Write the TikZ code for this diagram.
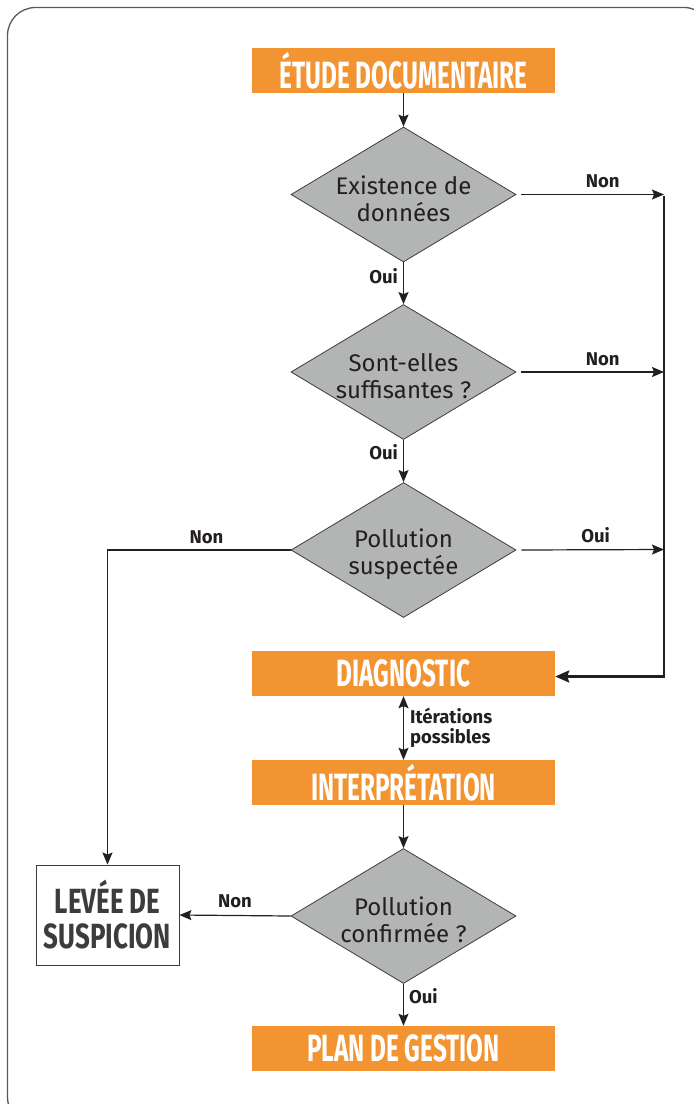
\documentclass[tikz,border=0pt]{standalone}
\usepackage{fontspec}
\setmainfont{Fira Sans}
\newfontfamily\headfont[FakeStretch=0.64]{Fira Sans}
\newfontfamily\leveefont[FakeStretch=0.74]{Fira Sans}
\usetikzlibrary{shapes.geometric,arrows.meta}
\definecolor{orng}{HTML}{F39433}
\definecolor{grayf}{HTML}{B3B5B5}
\definecolor{ink}{HTML}{231F20}
\definecolor{dgray}{HTML}{3C3C3C}
\tikzset{
  head/.style={fill=orng, minimum width=303pt, minimum height=45pt, inner sep=0pt,
    text=white, font=\headfont\bfseries\fontsize{38}{38}\selectfont},
  dia/.style={diamond, fill=grayf, draw=dgray, line width=0.8pt, minimum width=225pt,
    minimum height=135pt, inner sep=0pt},
  diatext/.style={align=center, text=ink, inner sep=0pt, yshift=-4pt,
    font=\fontsize{24}{27}\selectfont},
  lab/.style={font=\bfseries\fontsize{18.5}{20}\selectfont, text=ink, inner sep=0pt},
  arr/.style={draw=ink, line width=1.2pt, -{Stealth[length=12pt,width=10pt,inset=2pt]}},
  thk/.style={draw=ink, line width=2.6pt},
}
\begin{document}
\begin{tikzpicture}[x=1pt,y=-1pt]
\useasboundingbox (0,0) rectangle (694,1104);
\begin{scope}
\clip (0,0) rectangle (694,1104);
\draw[rounded corners=28pt, line width=1.3pt, draw=dgray!85] (7.5,7.5) rectangle (712,1125);
\end{scope}

\node[head] (etude) at (403.5,70.5) {ÉTUDE DOCUMENTAIRE};
\node[dia] (d1) at (403.5,194.5) {};
\node[diatext] (t1) at (d1.center) {Existence de\\données};
\node[dia] (d2) at (403.5,372) {};
\node[diatext] (t2) at (d2.center) {Sont-elles\\suffisantes ?};
\node[dia] (d3) at (403.5,550) {};
\node[diatext] (t3) at (d3.center) {Pollution\\suspectée};
\node[head] (diag) at (403.5,673.5) {DIAGNOSTIC};
\node[head] (interp) at (403.5,782.5) {INTERPRÉTATION};
\node[dia] (d4) at (403.5,916) {};
\node[diatext] (t4) at (d4.center) {Pollution\\confirmée ?};
\node[head] (plan) at (403.5,1048.5) {PLAN DE GESTION};
\node[draw=dgray, line width=0.9pt, fill=white, minimum width=143pt, minimum height=100pt,
  inner sep=0pt, align=center, text=dgray,
  font=\leveefont\bfseries\fontsize{35}{35}\selectfont] (levee) at (107.5,915) {LEVÉE DE\\SUSPICION};

\coordinate (r1) at (664,194.5);
\coordinate (r2) at (664,372);
\coordinate (r3) at (664,549.5);

% vertical flow
\draw[arr] (etude.south) -- (d1.north);
\draw[arr] (d1.south) -- node[lab, left=5pt, pos=0.33] {Oui} (d2.north);
\draw[arr] (d2.south) -- node[lab, left=5pt, pos=0.3] {Oui} (d3.north);
\draw[draw=ink, line width=1.2pt, {Stealth[length=12pt,width=10pt,inset=2pt]}-{Stealth[length=12pt,width=10pt,inset=2pt]}]
  (diag.south) -- node[lab, right=6pt, align=left] {Itérations\\possibles} (interp.north);
\draw[arr] (interp.south) -- (d4.north);
\draw[arr] (d4.south) -- node[lab, right=5pt, pos=0.3] {Oui} (plan.north);

% right branch
\draw[arr] ([xshift=5pt]d1.east) -- node[lab, above=6pt, pos=0.57] {Non} (r1);
\draw[arr] ([xshift=5pt]d2.east) -- node[lab, above=6pt, pos=0.57] {Non} (r2);
\draw[arr] ([xshift=5pt]d3.east) -- node[lab, above=6pt, pos=0.52] {Oui} (r3);
\draw[thk, -{Stealth[length=14pt,width=12pt,inset=2pt]}] ([yshift=-1pt]r1) |- ([yshift=-3pt]diag.east);

% left branch
\draw[arr] (d3.west) -| node[lab, above=6pt, pos=0.23] {Non} (levee.north);
\draw[arr] (d4.west) -- node[lab, above=7pt] {Non} (levee.east);
\end{tikzpicture}
\end{document}
